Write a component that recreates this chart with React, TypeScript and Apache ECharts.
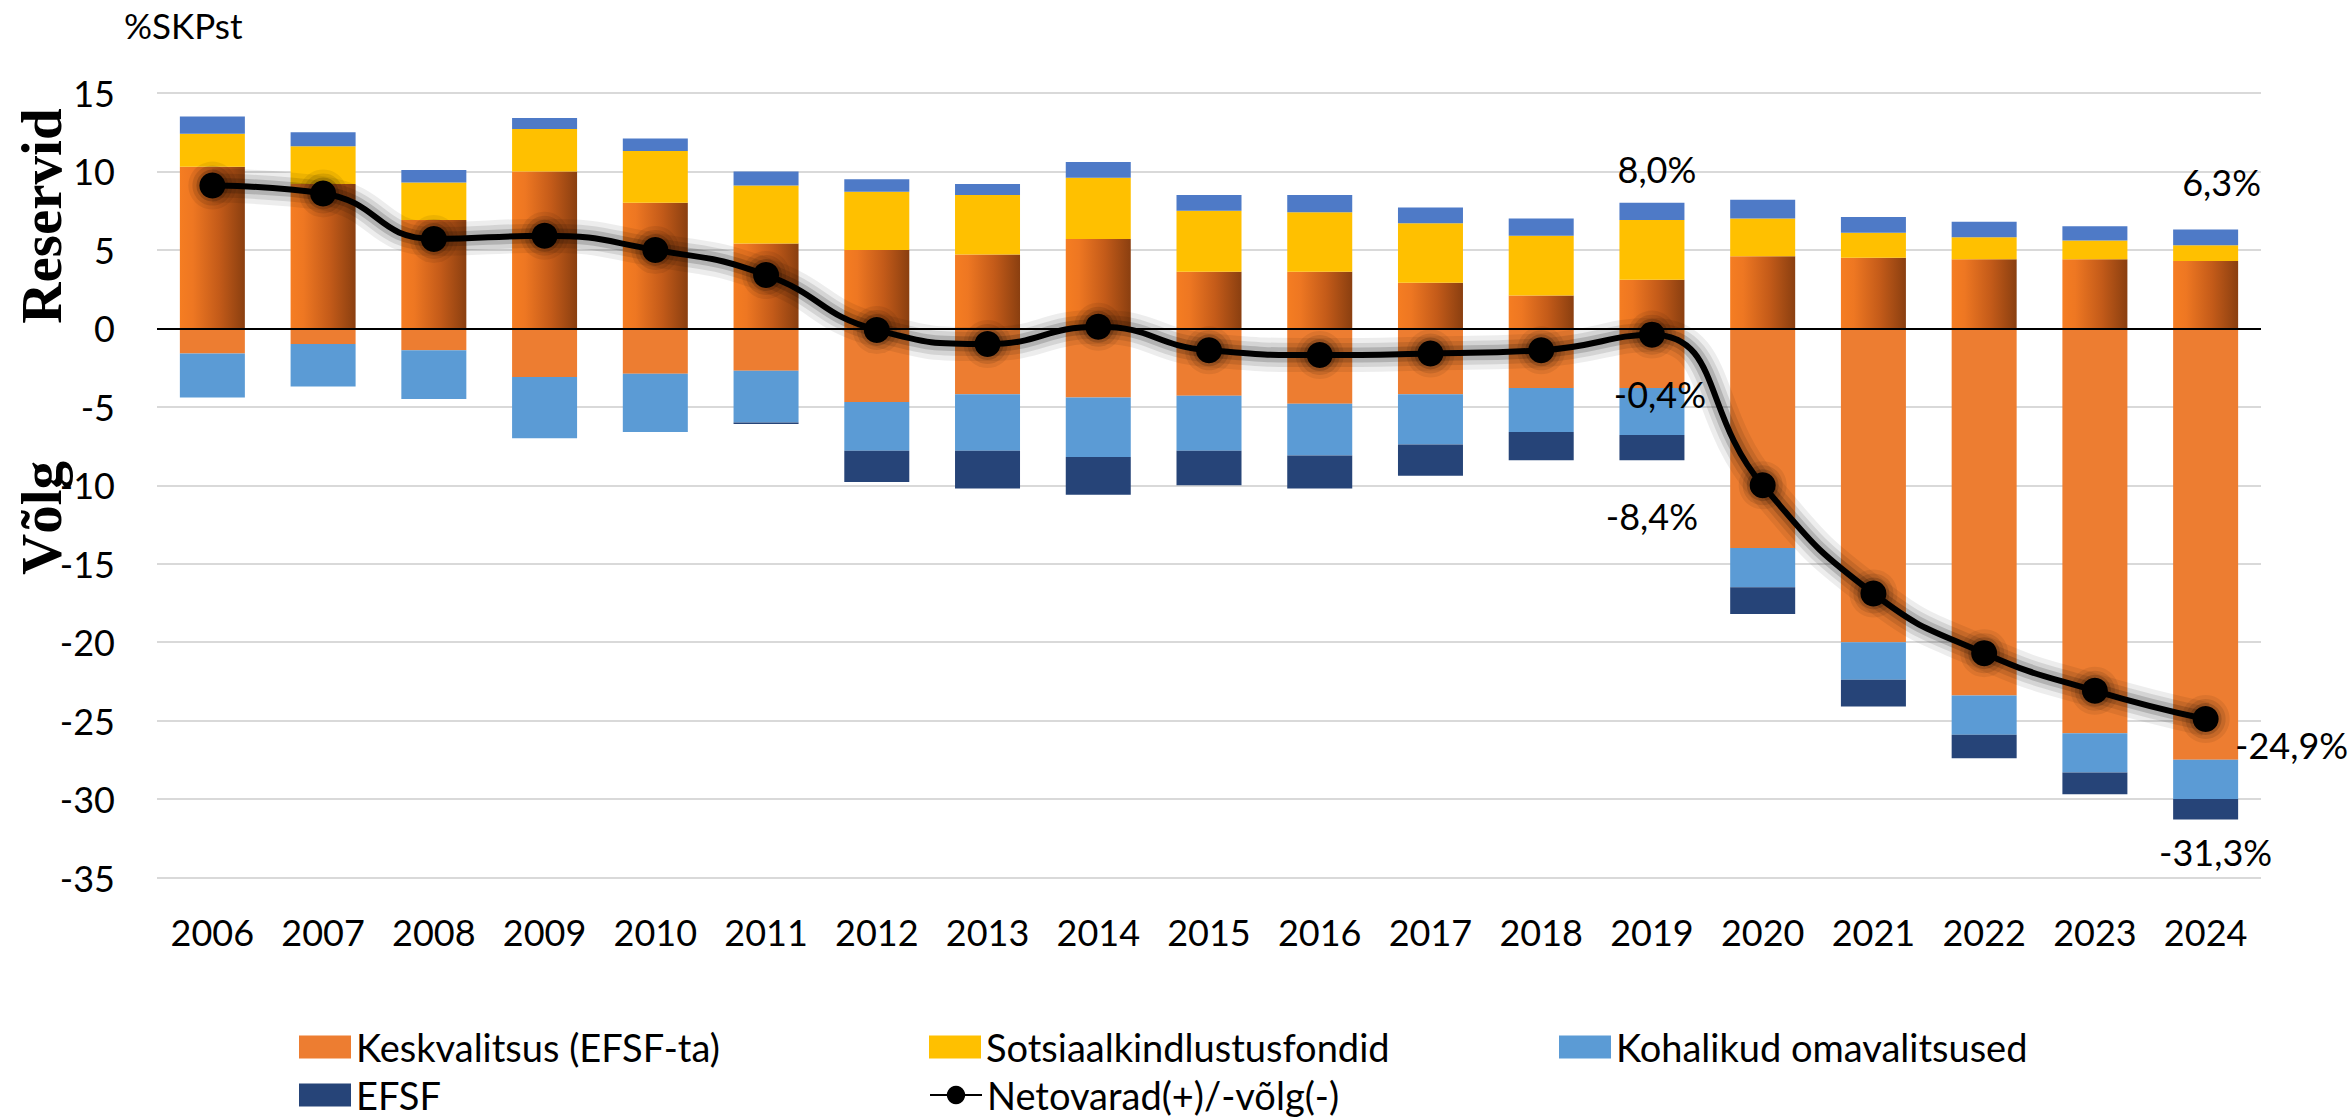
import React, { useEffect, useRef } from 'react';
import * as echarts from 'echarts';

const years = ['2006', '2007', '2008', '2009', '2010', '2011', '2012', '2013', '2014', '2015', '2016', '2017', '2018', '2019', '2020', '2021', '2022', '2023', '2024'];
// Keskvalitsus (EFSF-ta): reserves (positive) and debt (negative)
const keskPos = [10.3, 9.2, 6.9, 10.0, 8.0, 5.4, 5.0, 4.7, 5.7, 3.6, 3.6, 2.9, 2.1, 3.1, 4.6, 4.5, 4.4, 4.4, 4.3];
const keskNeg = [-1.6, -1.0, -1.4, -3.1, -2.9, -2.7, -4.7, -4.2, -4.4, -4.3, -4.8, -4.2, -3.8, -3.8, -14.0, -20.0, -23.4, -25.8, -27.5];
// Sotsiaalkindlustusfondid
const sots = [2.1, 2.4, 2.4, 2.7, 3.3, 3.7, 3.7, 3.8, 3.9, 3.9, 3.8, 3.8, 3.8, 3.8, 2.4, 1.6, 1.4, 1.2, 1.0];
// Kohalikud omavalitsused: reserves (positive) and debt (negative)
const kohPos = [1.1, 0.9, 0.8, 0.7, 0.8, 0.9, 0.8, 0.7, 1.0, 1.0, 1.1, 1.0, 1.1, 1.1, 1.2, 1.0, 1.0, 0.9, 1.0];
const kohNeg = [-2.8, -2.7, -3.1, -3.9, -3.7, -3.3, -3.1, -3.6, -3.8, -3.5, -3.3, -3.2, -2.8, -3.0, -2.5, -2.4, -2.5, -2.5, -2.5];
// EFSF
const efsf = [0, 0, 0, 0, 0, -0.1, -2.0, -2.4, -2.4, -2.2, -2.1, -2.0, -1.8, -1.6, -1.7, -1.7, -1.5, -1.4, -1.3];
// Netovarad(+)/-võlg(-)
const net = [9.1, 8.6, 5.7, 5.9, 5.0, 3.4, -0.1, -1.0, 0.1, -1.4, -1.7, -1.6, -1.4, -0.4, -10.0, -16.9, -20.7, -23.1, -24.9];

const yTicks = { min: -35, max: 15, interval: 5 };

const NAME_KESK = 'Keskvalitsus (EFSF-ta)';
const NAME_SOTS = 'Sotsiaalkindlustusfondid';
const NAME_KOH = 'Kohalikud omavalitsused';
const NAME_EFSF = 'EFSF';
const NAME_NET = 'Netovarad(+)/-võlg(-)';

const FONT = 'Lato, "Open Sans", sans-serif';
const SERIF = '"Liberation Serif", "Times New Roman", serif';

const fmt = (v: number) => v.toFixed(1).replace('.', ',') + '%';
const posTotal = (i: number) => keskPos[i] + sots[i] + kohPos[i];
const negTotal = (i: number) => keskNeg[i] + kohNeg[i] + efsf[i];

const labelBase = { show: true, color: '#000', fontSize: 36, fontFamily: FONT, lineHeight: 36 };

// glow layers drawn under the net line: [line width, stroke colour, symbol size]
const glowLayers: [number, string, number][] = [
  [34, 'rgba(0,0,0,0.07)', 48],
  [24, 'rgba(0,0,0,0.10)', 40],
  [15, 'rgba(0,0,0,0.16)', 32],
];

export default function App() {
  const ref = useRef<HTMLDivElement>(null);
  useEffect(() => {
    document.body.style.margin = '0';
    const chart = echarts.init(ref.current!, null, { renderer: 'svg' });

    const i2019 = years.indexOf('2019');
    const i2024 = years.indexOf('2024');

    const kohPosData = kohPos.map((v, i) => {
      if (i === i2019) return { value: v, label: { ...labelBase, position: 'top', distance: 16, offset: [5, 0], formatter: () => fmt(posTotal(i)) } };
      if (i === i2024) return { value: v, label: { ...labelBase, position: 'top', distance: 30, offset: [16, 0], formatter: () => fmt(posTotal(i)) } };
      return v;
    });
    const efsfData = efsf.map((v, i) => {
      if (i === i2019) return { value: v, label: { ...labelBase, position: 'bottom', distance: 38, formatter: () => fmt(negTotal(i)) } };
      if (i === i2024) return { value: v, label: { ...labelBase, position: 'bottom', distance: 15, offset: [10, 0], formatter: () => fmt(negTotal(i)) } };
      return v;
    });
    const netData = net.map((v, i) => {
      if (i === i2019) return { value: v, label: { ...labelBase, position: 'inside', offset: [8, 59], formatter: () => fmt(net[i]) } };
      if (i === i2024) return { value: v, label: { ...labelBase, position: 'inside', offset: [86, 26], formatter: () => fmt(net[i]) } };
      return v;
    });

    const orangeGrad = new echarts.graphic.LinearGradient(0, 0, 1, 0, [
      { offset: 0, color: '#F57D22' },
      { offset: 0.2, color: '#EE7722' },
      { offset: 0.6, color: '#C45B19' },
      { offset: 1, color: '#8A3F10' },
    ]);

    const barCommon = { type: 'bar', stack: 'total', barWidth: 65 };

    const glowSeries = glowLayers.map(([w, c, s], k) => ({
      type: 'line',
      name: 'glow' + k,
      data: net,
      smooth: 0.5,
      z: 5,
      silent: true,
      symbol: 'circle',
      symbolSize: s,
      lineStyle: { color: c, width: w },
      itemStyle: { color: c },
    }));

    const option: any = {
      animation: false,
      backgroundColor: '#fff',
      grid: { left: 157, right: 88, top: 93, bottom: 241.5, containLabel: false },
      legend: {
        data: [
          { name: NAME_KESK, icon: 'rect' },
          { name: NAME_SOTS, icon: 'rect' },
          { name: NAME_KOH, icon: 'rect' },
          { name: NAME_EFSF, icon: 'rect' },
          { name: NAME_NET },
        ],
        left: 299,
        top: 1028,
        padding: 0,
        width: 1900,
        itemWidth: 52,
        itemHeight: 23,
        itemGap: 10,
        selectedMode: false,
        textStyle: { fontFamily: FONT, fontSize: 38, color: '#000', width: 563, lineHeight: 38 },
      },
      xAxis: {
        type: 'category',
        data: years,
        axisLine: { show: false, onZero: false },
        axisTick: { show: false },
        splitLine: { show: false },
        axisLabel: { color: '#000', fontSize: 36, fontFamily: FONT, margin: 36, lineHeight: 36 },
      },
      yAxis: {
        type: 'value',
        min: yTicks.min,
        max: yTicks.max,
        interval: yTicks.interval,
        axisLine: { show: false },
        axisTick: { show: false },
        axisLabel: { color: '#000', fontSize: 36, fontFamily: FONT, margin: 42 },
        splitLine: { lineStyle: { color: '#D9D9D9', width: 2 } },
      },
      graphic: [
        { type: 'text', x: 124, y: 25, style: { text: '%SKPst', fontSize: 35, fontFamily: FONT, fill: '#000', align: 'left', verticalAlign: 'middle' } },
        { type: 'text', x: 41, y: 216, rotation: Math.PI / 2, style: { text: 'Reservid', fontSize: 57, fontWeight: 'bold', fontFamily: SERIF, fill: '#000', align: 'center', verticalAlign: 'middle' } },
        { type: 'text', x: 41, y: 518, rotation: Math.PI / 2, style: { text: 'Võlg', fontSize: 57, fontWeight: 'bold', fontFamily: SERIF, fill: '#000', align: 'center', verticalAlign: 'middle' } },
      ],
      series: [
        { ...barCommon, name: 'Keskvalitsus (reservid)', data: keskPos, itemStyle: { color: orangeGrad } },
        { ...barCommon, name: NAME_KESK, data: keskNeg, itemStyle: { color: '#ED7D31' } },
        { ...barCommon, name: NAME_SOTS, data: sots, itemStyle: { color: '#FFC000' } },
        { ...barCommon, name: 'Kohalikud omavalitsused (reservid)', data: kohPosData, itemStyle: { color: '#4E7AC7' } },
        { ...barCommon, name: NAME_KOH, data: kohNeg, itemStyle: { color: '#5B9BD5' } },
        {
          ...barCommon,
          name: NAME_EFSF,
          data: efsfData,
          itemStyle: { color: '#264478' },
          markLine: {
            silent: true,
            symbol: 'none',
            label: { show: false },
            lineStyle: { color: '#000', width: 2, type: 'solid' },
            data: [{ yAxis: 0 }],
          },
        },
        ...glowSeries,
        {
          type: 'line',
          name: NAME_NET,
          data: netData,
          smooth: 0.5,
          z: 6,
          symbol: 'circle',
          symbolSize: 26,
          lineStyle: { color: '#000', width: 6 },
          itemStyle: { color: '#000' },
        },
      ],
    };

    chart.setOption(option);
    return () => chart.dispose();
  }, []);
  return <div ref={ref} style={{ width: 2349, height: 1119 }} />;
}
